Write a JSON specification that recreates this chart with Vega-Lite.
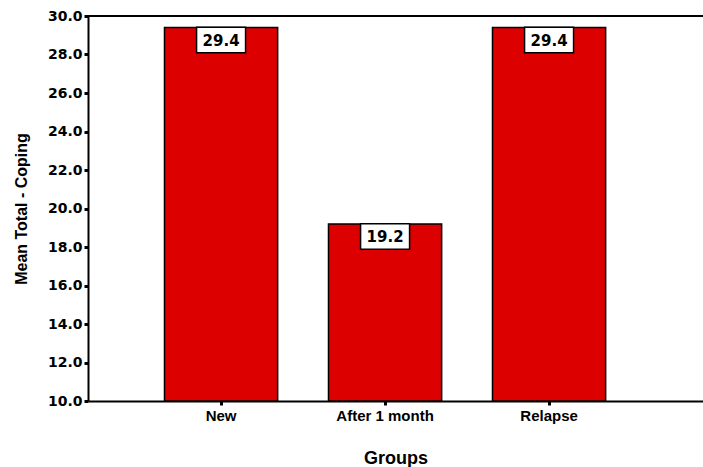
{
  "$schema": "https://vega.github.io/schema/vega-lite/v6.json",
  "width": 615,
  "height": 385,
  "autosize": {"type": "none"},
  "padding": {"left": 88, "top": 16, "right": 0, "bottom": 66},
  "background": "white",
  "config": {"view": {"stroke": null}},
  "data": {"values": [
    {"group": "New", "value": 29.4},
    {"group": "After 1 month", "value": 19.2},
    {"group": "Relapse", "value": 29.4}
  ]},
  "encoding": {
    "x": {
      "field": "group", "type": "nominal", "sort": null,
      "scale": {"paddingInner": 0.31, "paddingOuter": 0.53, "align": 0.44},
      "axis": {
        "title": "Groups", "labelAngle": 0,
        "labelFont": "Liberation Sans", "labelFontWeight": "bold", "labelFontSize": 15, "labelColor": "black",
        "labelPadding": 3,
        "titleFont": "Liberation Sans", "titleFontWeight": "bold", "titleFontSize": 18, "titleColor": "black",
        "titlePadding": 26,
        "domainColor": "black", "domainWidth": 2,
        "tickColor": "black", "tickWidth": 3, "tickSize": 4
      }
    },
    "y": {
      "field": "value", "type": "quantitative",
      "scale": {"domain": [10, 30], "zero": false, "nice": false},
      "axis": {
        "title": "Mean Total - Coping", "values": [10, 12, 14, 16, 18, 20, 22, 24, 26, 28, 30],
        "format": ".1f", "grid": false, "labelOverlap": false, "tickCount": 11,
        "labelFont": "DejaVu Sans", "labelFontWeight": "bold", "labelFontSize": 14, "labelColor": "black",
        "labelPadding": 2,
        "titleFont": "Liberation Sans", "titleFontWeight": "bold", "titleFontSize": 16, "titleColor": "black",
        "titlePadding": 18,
        "domainColor": "black", "domainWidth": 2,
        "tickColor": "black", "tickWidth": 3, "tickSize": 4
      }
    }
  },
  "layer": [
    {
      "mark": {"type": "bar", "fill": "#DC0000", "stroke": "black", "strokeWidth": 1.5},
      "encoding": {"y2": {"datum": 10}}
    },
    {
      "mark": {"type": "rule", "color": "black", "strokeWidth": 2},
      "encoding": {"y": {"datum": 30}, "x": {"value": 0}, "x2": {"value": 615}}
    },
    {
      "mark": {"type": "point", "shape": "M-1,-0.52H1V0.52H-1Z", "size": 2401, "filled": true, "fill": "white", "stroke": "black", "strokeWidth": 1.5, "opacity": 1, "yOffset": 12.5},
      "encoding": {}
    },
    {
      "mark": {"type": "text", "font": "DejaVu Sans", "fontWeight": "bold", "fontSize": 15, "color": "black", "baseline": "middle", "yOffset": 13},
      "encoding": {"text": {"field": "value", "type": "quantitative", "format": ".1f"}}
    }
  ]
}
